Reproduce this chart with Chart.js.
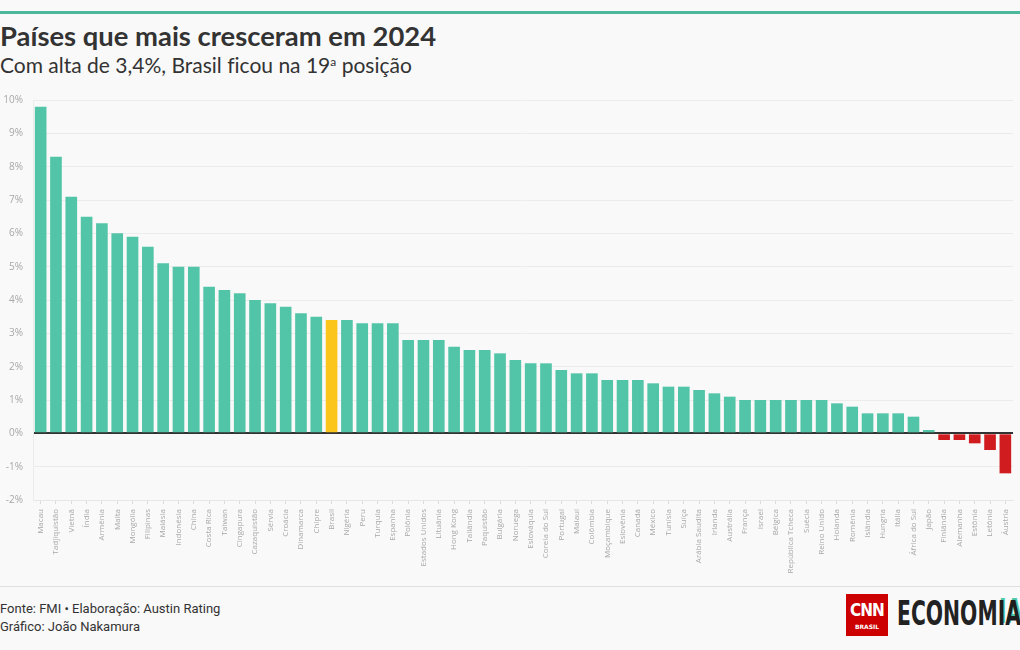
<!DOCTYPE html>
<html lang="pt-BR">
<head>
<meta charset="UTF-8">
<title>Países que mais cresceram em 2024</title>
<script src="https://cdn.jsdelivr.net/npm/chart.js@4.4.0/dist/chart.umd.min.js"></script>
<style>
  html, body { margin: 0; padding: 0; background: #f9f9f9; }
  body { width: 1020px; height: 650px; position: relative; overflow: hidden; font-family: "Open Sans", sans-serif; }
  .topline { position: absolute; top: 11px; left: 0; width: 1020px; height: 3px; background: #4cb99d; }
  h1 { position: absolute; top: 19px; left: 0; margin: 0; font: bold 27.4px Lato, sans-serif; color: #333; white-space: nowrap; }
  h2 { position: absolute; top: 52px; left: 0; margin: 0; font: normal 21px Lato, sans-serif; color: #333; white-space: nowrap; font-variant-ligatures: none; }
  h2 sup { font-size: 12px; vertical-align: 7px; line-height: 0; }
  .wrap { position: absolute; top: 84px; left: 0; width: 1020px; height: 496px; }
  .footline { position: absolute; top: 586px; left: 0; width: 1020px; height: 1px; background: #dedede; }
  .source { position: absolute; top: 600px; left: 0; font: 13px Roboto, sans-serif; color: #333; line-height: 18px; }
  .cnn { position: absolute; left: 846px; top: 594px; width: 42px; height: 42px; background: #cc0000; color: #fff; text-align: center; }
  .cnn .a { font: bold 17px "DejaVu Sans Condensed", sans-serif; letter-spacing: -1px; margin-top: 7px; line-height: 18px; }
  .cnn .b { font: bold 6px "DejaVu Sans", sans-serif; margin-top: 4px; }
  .eco { position: absolute; left: 897px; top: 596px; font: bold 33px "DejaVu Sans Condensed", sans-serif; color: #222; line-height: 36px; transform: scaleX(0.685); transform-origin: left top; white-space: nowrap; }
  .eco span { color: #1d1d1d; text-shadow: 2px -2px 0 #4cc9a8; }
</style>
</head>
<body>
<div class="topline"></div>
<h1>Países que mais cresceram em 2024</h1>
<h2>Com alta de 3,4%, Brasil ficou na 19<sup>a</sup> posição</h2>
<div class="wrap"><canvas id="chart" width="1020" height="496"></canvas></div>
<div class="footline"></div>
<div class="source">Fonte: FMI • Elaboração: Austin Rating<br>Gráfico: João Nakamura</div>
<div class="cnn"><div class="a">CNN</div><div class="b">BRASIL</div></div>
<div class="eco">ECONOM<span>IA</span></div>
<script>
  const paises = ['Macau', 'Tadjiquistão', 'Vietnã', 'Índia', 'Armênia', 'Malta', 'Mongólia', 'Filipinas',
    'Malásia', 'Indonésia', 'China', 'Costa Rica', 'Taiwan', 'Cingapura', 'Cazaquistão', 'Sérvia',
    'Croácia', 'Dinamarca', 'Chipre', 'Brasil', 'Nigéria', 'Peru', 'Turquia', 'Espanha', 'Polônia',
    'Estados Unidos', 'Lituânia', 'Hong Kong', 'Tailândia', 'Paquistão', 'Bulgária', 'Noruega',
    'Eslováquia', 'Coreia do Sul', 'Portugal', 'Malauí', 'Colômbia', 'Moçambique', 'Eslovênia',
    'Canadá', 'México', 'Tunísia', 'Suíça', 'Arábia Saudita', 'Irlanda', 'Austrália', 'França',
    'Israel', 'Bélgica', 'República Tcheca', 'Suécia', 'Reino Unido', 'Holanda', 'Romênia',
    'Islândia', 'Hungria', 'Itália', 'África do Sul', 'Japão', 'Finlândia', 'Alemanha', 'Estônia',
    'Letônia', 'Áustria'];
  const crescimento = [9.8, 8.3, 7.1, 6.5, 6.3, 6.0, 5.9, 5.6,
    5.1, 5.0, 5.0, 4.4, 4.3, 4.2, 4.0, 3.9,
    3.8, 3.6, 3.5, 3.4, 3.4, 3.3, 3.3, 3.3, 2.8,
    2.8, 2.8, 2.6, 2.5, 2.5, 2.4, 2.2,
    2.1, 2.1, 1.9, 1.8, 1.8, 1.6, 1.6,
    1.6, 1.5, 1.4, 1.4, 1.3, 1.2, 1.1, 1.0,
    1.0, 1.0, 1.0, 1.0, 1.0, 0.9, 0.8,
    0.6, 0.6, 0.6, 0.5, 0.1, -0.2, -0.2, -0.3,
    -0.5, -1.2];
  const destaque = 'Brasil';
  const yMin = -2, yMax = 10;

  const cores = paises.map(function (p, i) {
    if (p === destaque) return '#fcc51c';
    return crescimento[i] < 0 ? '#d01c1f' : '#52c4a7';
  });

  const ctx = document.getElementById('chart').getContext('2d');
  new Chart(ctx, {
    type: 'bar',
    data: {
      labels: paises,
      datasets: [{
        data: crescimento,
        backgroundColor: cores,
        barPercentage: 0.76,
        categoryPercentage: 1
      }]
    },
    options: {
      responsive: false,
      animation: false,
      layout: { padding: { top: 5, right: 5, left: 0, bottom: 0 } },
      plugins: { legend: { display: false }, tooltip: { enabled: false } },
      scales: {
        x: {
          afterFit: function (scale) { scale.height = 80; },
          grid: { drawOnChartArea: false, offset: false, tickLength: 4, color: '#dcdcdc' },
          border: { color: '#e6e6e6' },
          ticks: {
            autoSkip: false, maxRotation: 90, minRotation: 90, padding: 5,
            color: '#a8a8a8', font: { family: 'Open Sans', size: 8 }
          }
        },
        y: {
          min: yMin, max: yMax,
          afterFit: function (scale) { scale.width = 33; },
          grid: {
            drawTicks: false,
            color: function (c) { return c.tick && c.tick.value === 0 ? '#333' : '#ececec'; },
            lineWidth: function (c) { return c.tick && c.tick.value === 0 ? 2 : 1; }
          },
          border: { color: '#ececec' },
          ticks: {
            stepSize: 1, padding: 10,
            color: '#a8a8a8', font: { family: 'Open Sans', size: 10 },
            callback: function (v) { return v + '%'; }
          }
        }
      }
    }
  });
</script>
</body>
</html>
